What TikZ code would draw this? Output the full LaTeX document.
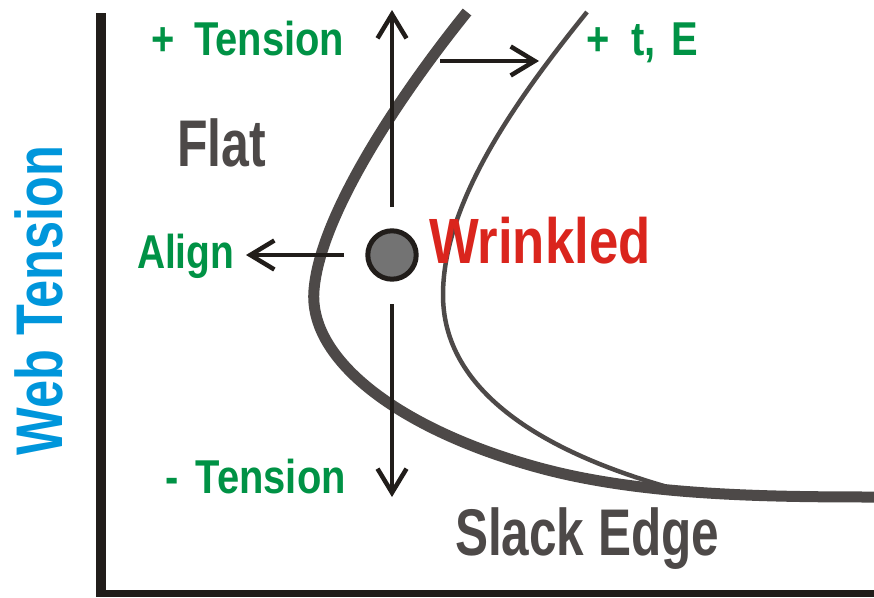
\documentclass[tikz,border=0pt]{standalone}
\usepackage{fontspec}
\usepackage{graphicx}
\setmainfont{Liberation Sans}
\usetikzlibrary{arrows.meta}
\definecolor{axisc}{HTML}{211D1A}
\definecolor{curvec}{HTML}{4D4948}
\definecolor{greenc}{HTML}{009245}
\definecolor{bluec}{HTML}{0096DB}
\definecolor{redc}{HTML}{DA251D}
\definecolor{dotc}{HTML}{737373}
\newcommand{\hsq}[2]{\scalebox{#1}[1]{#2}}
\tikzset{
  lab/.style={inner sep=0pt, outer sep=0pt, anchor=base west},
  gsize/.style={font=\bfseries\fontsize{47.5}{50}\selectfont, text=greenc},
  bigsize/.style={font=\bfseries\fontsize{66}{70}\selectfont},
  arr/.style={line width=4.5pt, draw=axisc, -{Straight Barb[length=24pt,width=29pt]}},
  thickcurve/.style={line width=11pt, draw=curvec},
  thincurve/.style={line width=4.5pt, draw=curvec},
}
\begin{document}
\begin{tikzpicture}[x=1pt,y=-1pt]
\useasboundingbox (0,0) rectangle (874,597);
% axes
\fill[axisc] (96,13) rectangle (106,597);
\fill[axisc] (96,590) rectangle (874,597);
% curves
\draw[thickcurve] (467,12) .. controls (400,95) and (320,215) .. (314,290)
   .. controls (308,360) and (400,430) .. (540,468)
   .. controls (640,495) and (760,497) .. (874,497);
\draw[thincurve] (587,12) .. controls (520,95) and (443,200) .. (443,295)
   .. controls (443,390) and (540,450) .. (664,486);
% dot
\node[circle, draw=axisc, line width=5pt, fill=dotc, minimum size=48.4pt, inner sep=0pt] (dot) at (392,255) {};
% arrow anchor points
\coordinate (upS) at (392,207);
\coordinate (upE) at (392,10);
\coordinate (dnS) at (392,304);
\coordinate (dnE) at (392,497);
\coordinate (lfS) at (344,255);
\coordinate (lfE) at (246,255);
\coordinate (rtS) at (440,61);
\coordinate (rtE) at (539,61);
\draw[arr] (upS) -- (upE);
\draw[arr] (dnS) -- (dnE);
\draw[arr] (lfS) -- (lfE);
\draw[arr] (rtS) -- (rtE);
% labels
\node[lab, gsize] (plusT) at (151,55) {\hsq{0.84}{+}\kern20pt\hsq{0.84}{Tension}};
\node[lab, gsize] (minusT) at (165.5,493) {\hsq{0.84}{-}\kern17pt\hsq{0.84}{Tension}};
\node[lab, gsize] (tE) at (586,55) {\hsq{0.84}{+}\kern22pt\hsq{0.84}{t,}\kern16pt\hsq{0.84}{E}};
\node[lab, gsize] (align) at (137,268) {\hsq{0.82}{Align}};
\node[lab, bigsize, text=curvec] (flat) at (177,166) {\hsq{0.757}{Flat}};
\node[lab, bigsize, text=curvec] (slack) at (455,555) {\hsq{0.75}{Slack Edge}};
\node[lab, font=\bfseries\fontsize{64}{68}\selectfont, text=redc] (wrinkled) at (429,263) {\hsq{0.823}{Wrinkled}};
\node[lab, bigsize, text=bluec, rotate=90] (web) at (62,455) {\hsq{0.765}{Web Tension}};
\end{tikzpicture}
\end{document}
